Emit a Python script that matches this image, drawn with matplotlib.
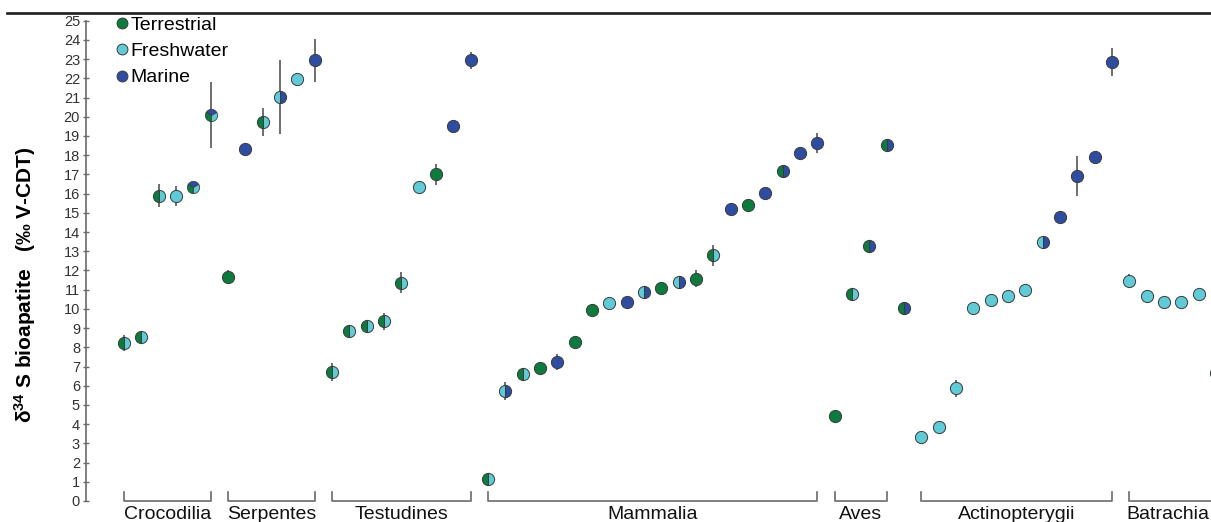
import numpy as np
import matplotlib
matplotlib.use("Agg")
import matplotlib.pyplot as plt
from matplotlib.lines import Line2D
from matplotlib.path import Path

plt.rcParams['font.family'] = ['Liberation Sans', 'DejaVu Sans']
plt.rcParams['mathtext.fontset'] = 'custom'
plt.rcParams['mathtext.rm'] = 'Liberation Sans'
plt.rcParams['mathtext.bf'] = 'Liberation Sans:bold'

# valeurs (delta34S, %o V-CDT)
values = [8.22, 8.55, 15.9, 15.9, 16.32, 20.1,
          11.67, 18.33, 19.72, 21.03, 21.95, 22.93,
          6.72, 8.85, 9.11, 9.36, 11.37, 16.32, 17.0, 19.52, 22.93,
          1.13, 5.73, 6.63, 6.94, 7.24, 8.26, 9.94, 10.29, 10.37, 10.86,
          11.07, 11.38, 11.57, 12.79, 15.2, 15.39, 16.02, 17.19, 18.12, 18.62,
          4.42, 10.76, 13.27, 18.53,
          10.06,
          3.33, 3.83, 5.86, 10.06, 10.46, 10.69, 10.98, 13.48, 14.78, 16.92,
          17.91, 22.85,
          11.47, 10.67, 10.37, 10.37, 10.78, 6.65]

# ecart-type (0 = pas de barre)
errors = [0.42, 0, 0.62, 0.52, 0, 1.72,
          0.35, 0, 0.72, 1.93, 0, 1.11,
          0.45, 0, 0, 0.45, 0.56, 0, 0.55, 0, 0.42,
          0, 0.46, 0, 0, 0.43, 0, 0.33, 0, 0, 0,
          0, 0, 0.43, 0.54, 0, 0, 0, 0, 0, 0.53,
          0, 0, 0.32, 0,
          0,
          0, 0.3, 0.46, 0, 0, 0, 0, 0, 0.33, 1.05,
          0, 0.73,
          0.33, 0, 0, 0, 0, 0]

# milieu: T terrestre, F eau douce, M marin (gauche/droite du symbole)
habitat = ['TF', 'TF', 'TF', 'F', 'TFM', 'TFM',
           'T', 'M', 'TF', 'FM', 'F', 'M',
           'TF', 'TF', 'TF', 'TF', 'TF', 'F', 'T', 'M', 'M',
           'TF', 'FM', 'TF', 'T', 'M', 'T', 'T', 'F', 'M', 'FM',
           'T', 'FM', 'T', 'TF', 'M', 'T', 'M', 'TM', 'M', 'M',
           'T', 'TF', 'TM', 'TM',
           'TM',
           'F', 'F', 'F', 'F', 'F', 'F', 'F', 'FM', 'M', 'M',
           'M', 'M',
           'F', 'F', 'F', 'F', 'F', 'T']

groups = ['Crocodilia', 'Serpentes', 'Testudines', 'Mammalia', 'Aves',
          'Actinopterygii', 'Batrachia']
group_start = [0, 6, 12, 21, 41, 46, 58]
group_end = [5, 11, 20, 40, 44, 57, 64]

legend_labels = ['Terrestrial', 'Freshwater', 'Marine']
colors = {'T': '#0c7b3d', 'F': '#60cad7', 'M': '#2f4da0'}
edge = '#3a3a3a'

x = np.arange(len(values))
values = np.array(values)
errors = np.array(errors)

fig = plt.figure(figsize=(12.11, 5.22), dpi=100)
ax = fig.add_axes([86/1211, 21/522, 1 - 86/1211, 480.3/522])
ax.set_xlim(-2.19, 62.72)
ax.set_ylim(0, 25)

# barres d'erreur
m = errors > 0
ax.errorbar(x[m], values[m], yerr=errors[m], fmt='none', ecolor='#555555',
            elinewidth=1.2, capsize=0, zorder=2)

ms = 8.8
mew = 0.7


def wedge(t1, t2):
    t = np.radians(np.linspace(t1, t2, 40))
    v = np.vstack([[0, 0], np.column_stack([np.cos(t), np.sin(t)]), [0, 0]])
    return Path(v, closed=True)


tri = [(30, 150, 'M'), (150, 270, 'T'), (270, 390, 'F')]

for xi, yi, h in zip(x, values, habitat):
    if len(h) == 1:
        ax.plot(xi, yi, 'o', ms=ms, mfc=colors[h], mec=edge, mew=mew,
                zorder=3, clip_on=True)
    elif len(h) == 2:
        ax.plot(xi, yi, 'o', ms=ms, fillstyle='left', mfc=colors[h[0]],
                mfcalt=colors[h[1]], mec=edge, mew=mew, zorder=3)
    else:
        for t1, t2, c in tri:
            ax.plot(xi, yi, marker=wedge(t1, t2), ms=ms, mfc=colors[c],
                    mec=edge, mew=mew * 0.8, ls='none', zorder=3)

# crochets des groupes
for name, s, e in zip(groups, group_start, group_end):
    ax.plot([s, s, e, e], [0.48, 0, 0, 0.48], color='#6a6a6a', lw=1.2,
            clip_on=False, zorder=1)
    if e > ax.get_xlim()[1]:
        ax.text(s - 0.15, -0.94, name, ha='left', va='baseline',
                fontsize=14, color='#111111', clip_on=False)
    else:
        ax.text((s + e) / 2, -0.94, name, ha='center', va='baseline',
                fontsize=14, color='#111111', clip_on=False)

for sp in ['top', 'right', 'bottom']:
    ax.spines[sp].set_visible(False)
ax.spines['left'].set_color('#6a6a6a')
ax.spines['left'].set_linewidth(1.2)
ax.spines['left'].set_bounds(0, 25)
ax.set_xticks([])
ax.set_yticks(range(0, 26))
ax.tick_params(axis='y', direction='inout', length=5, width=1.0,
               color='#6a6a6a', labelsize=10.5, labelcolor='#333333', pad=1.8)

ax.set_ylabel(r'$\mathbf{\delta^{34}}$ S bioapatite   (‰ V-CDT)',
              fontsize=15, fontweight='bold')
ax.yaxis.set_label_coords(-0.043, 0.4497)

handles = [Line2D([], [], marker='o', ls='none', ms=7.8, mfc=colors[k],
                  mec=edge, mew=mew) for k in 'TFM']
ax.legend(handles, legend_labels, loc='upper left',
          bbox_to_anchor=(117/1211, 1 - 16.5/522),
          bbox_transform=fig.transFigure, frameon=False, fontsize=14,
          handlelength=0.55, handletextpad=0.15, labelspacing=0.44,
          borderpad=0, borderaxespad=0)

# trait noir en haut
fig.add_artist(Line2D([7/1211, 1], [1 - 13/522, 1 - 13/522], color='#1e1e1e',
                      lw=1.9, transform=fig.transFigure))

fig.savefig('out.png', dpi=100)
